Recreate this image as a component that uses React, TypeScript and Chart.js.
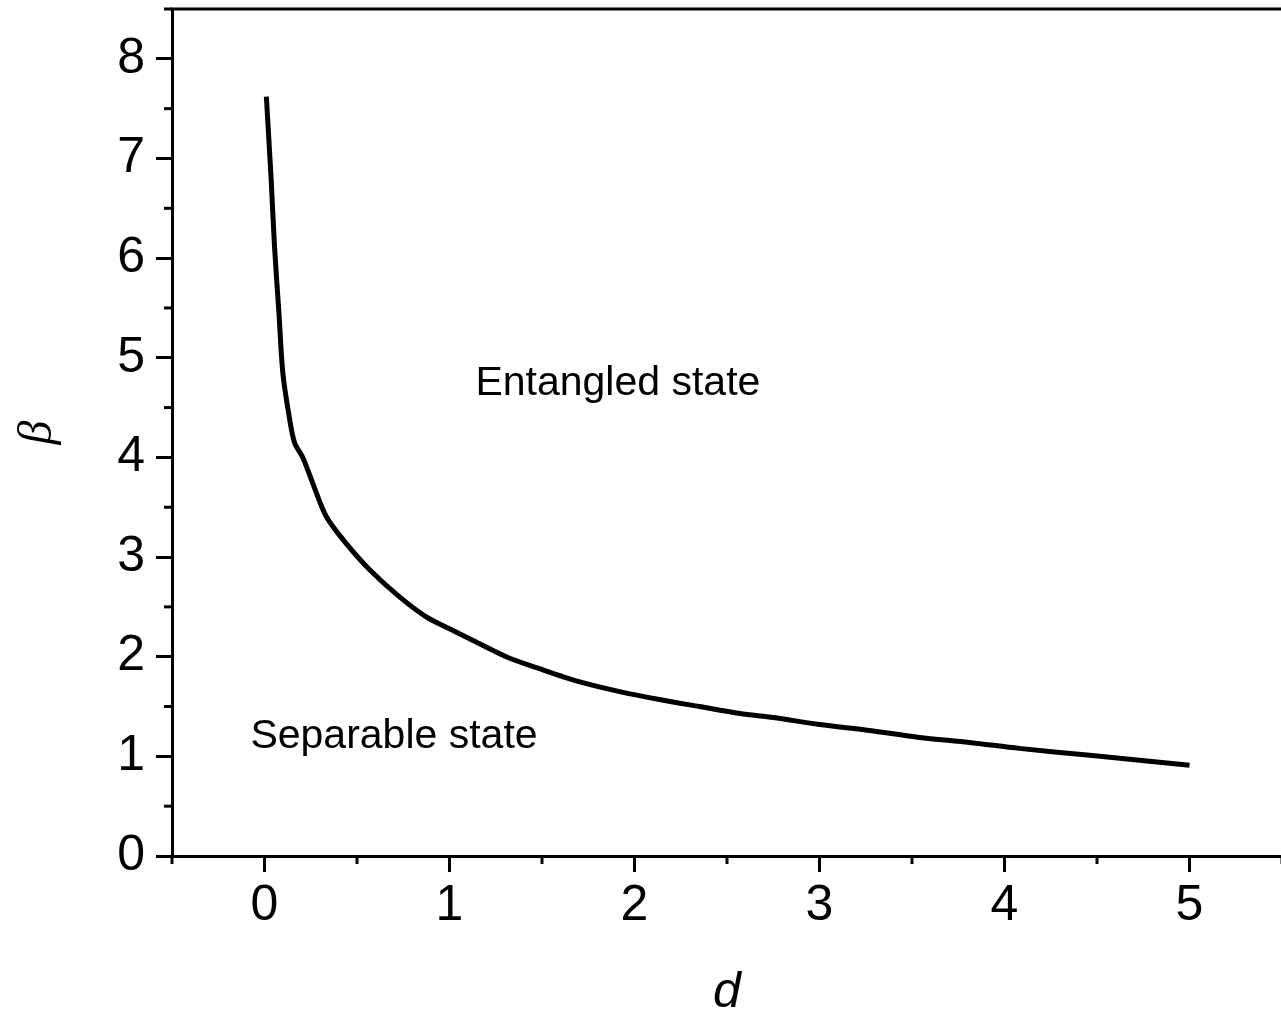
import { useEffect, useRef } from "react";
import { Chart, registerables } from "chart.js";

Chart.register(...registerables);

// Boundary between entangled and separable regions: beta as a function of d
const dValues = [
  0.01, 0.036, 0.054, 0.078, 0.099, 0.13, 0.162, 0.207, 0.261, 0.333, 0.44,
  0.57, 0.73, 0.874, 1.0, 1.13, 1.306, 1.486, 1.7, 1.92, 2.135, 2.35, 2.57,
  2.75, 3.0, 3.27, 3.54, 3.81, 4.08, 4.46, 5.0,
];
const betaValues = [
  7.62, 6.79, 6.12, 5.45, 4.85, 4.45, 4.15, 4.0, 3.74, 3.41, 3.14,
  2.87, 2.6, 2.4, 2.28, 2.16, 2.0, 1.88, 1.75, 1.65, 1.57, 1.5, 1.43,
  1.39, 1.32, 1.26, 1.19, 1.14, 1.08, 1.01, 0.91,
];

const xTickValues = [0, 1, 2, 3, 4, 5];
const yTickValues = [0, 1, 2, 3, 4, 5, 6, 7, 8];
const xMinorValues = [-0.5, 0.5, 1.5, 2.5, 3.5, 4.5, 5.5];
const yMinorValues = [0.5, 1.5, 2.5, 3.5, 4.5, 5.5, 6.5, 7.5, 8.5];

const regionLabels = ["Entangled state", "Separable state"];
const regionLabelD = [1.91, 0.7];
const regionLabelBeta = [4.74, 1.2];

const SANS = "'Liberation Sans', Arial, sans-serif";
const SERIF = "'Liberation Serif', 'Times New Roman', serif";

const frameAndLabels = {
  id: "frameAndLabels",
  afterDraw(chart: any) {
    const { ctx, chartArea } = chart;
    const xs = chart.scales.x;
    const ys = chart.scales.y;
    ctx.save();
    ctx.strokeStyle = "#000";
    ctx.lineWidth = 3;
    ctx.lineCap = "butt";
    // top frame line
    ctx.beginPath();
    ctx.moveTo(chartArea.left - 1.5, chartArea.top);
    ctx.lineTo(chartArea.right + 2, chartArea.top);
    ctx.stroke();
    // minor ticks
    for (const v of xMinorValues) {
      const px = xs.getPixelForValue(v);
      ctx.beginPath();
      ctx.moveTo(px, chartArea.bottom);
      ctx.lineTo(px, chartArea.bottom + 8);
      ctx.stroke();
    }
    for (const v of yMinorValues) {
      const py = ys.getPixelForValue(v);
      ctx.beginPath();
      ctx.moveTo(chartArea.left, py);
      ctx.lineTo(chartArea.left - 8, py);
      ctx.stroke();
    }
    // region labels
    ctx.fillStyle = "#000";
    ctx.font = `41px ${SANS}`;
    ctx.textAlign = "center";
    ctx.textBaseline = "middle";
    regionLabels.forEach((t, i) => {
      ctx.fillText(
        t,
        xs.getPixelForValue(regionLabelD[i]),
        ys.getPixelForValue(regionLabelBeta[i])
      );
    });
    ctx.restore();
  },
};

export default function App() {
  const canvasRef = useRef<HTMLCanvasElement | null>(null);

  useEffect(() => {
    const canvas = canvasRef.current;
    if (!canvas) return;
    const chart = new Chart(canvas, {
      type: "line",
      data: {
        datasets: [
          {
            data: dValues.map((d, i) => ({ x: d, y: betaValues[i] })),
            borderColor: "#000",
            borderWidth: 5,
            pointRadius: 0,
            tension: 0.3,
            fill: false,
          },
        ],
      },
      options: {
        animation: false,
        responsive: false,
        devicePixelRatio: 1,
        layout: { padding: { top: 9, right: 8, left: 0, bottom: 0 } },
        plugins: {
          legend: { display: false },
          tooltip: { enabled: false },
        },
        scales: {
          x: {
            type: "linear",
            position: "bottom",
            min: -0.5,
            max: 5.5,
            afterBuildTicks: (s: any) => {
              s.ticks = xTickValues.map((v) => ({ value: v }));
            },
            afterFit: (s: any) => {
              s.height = 162;
              s.paddingLeft = 0;
              s.paddingRight = 0;
            },
            ticks: {
              color: "#000",
              font: { family: SANS, size: 50 },
              padding: 4,
              maxRotation: 0,
              autoSkip: false,
            },
            grid: {
              display: true,
              drawOnChartArea: false,
              drawTicks: true,
              tickLength: 16,
              color: "#000",
              lineWidth: 3,
            },
            border: { display: true, color: "#000", width: 3 },
            title: {
              display: true,
              text: "d",
              color: "#000",
              font: { family: SANS, size: 50, style: "italic", lineHeight: 1 },
              padding: { top: 0, bottom: 0 },
            },
          },
          y: {
            type: "linear",
            min: 0,
            max: 8.5,
            afterBuildTicks: (s: any) => {
              s.ticks = yTickValues.map((v) => ({ value: v }));
            },
            afterFit: (s: any) => {
              s.width = 172;
              s.paddingTop = 0;
              s.paddingBottom = 0;
            },
            ticks: {
              color: "#000",
              font: { family: SANS, size: 50 },
              padding: 11,
              autoSkip: false,
            },
            grid: {
              display: true,
              drawOnChartArea: false,
              drawTicks: true,
              tickLength: 16,
              color: "#000",
              lineWidth: 3,
            },
            border: { display: true, color: "#000", width: 3 },
            title: {
              display: true,
              text: "β",
              color: "#000",
              font: { family: SERIF, size: 48, style: "italic", lineHeight: 1 },
              padding: { top: 14, bottom: 0 },
            },
          },
        },
      },
      plugins: [frameAndLabels],
    });
    return () => chart.destroy();
  }, []);

  return (
    <div
      style={{
        position: "absolute",
        left: 0,
        top: 0,
        width: 1281,
        height: 1018,
        overflow: "hidden",
        background: "#fff",
      }}
    >
      <canvas
        ref={canvasRef}
        width={1290}
        height={1018}
        style={{ display: "block", width: 1290, height: 1018 }}
      />
    </div>
  );
}
